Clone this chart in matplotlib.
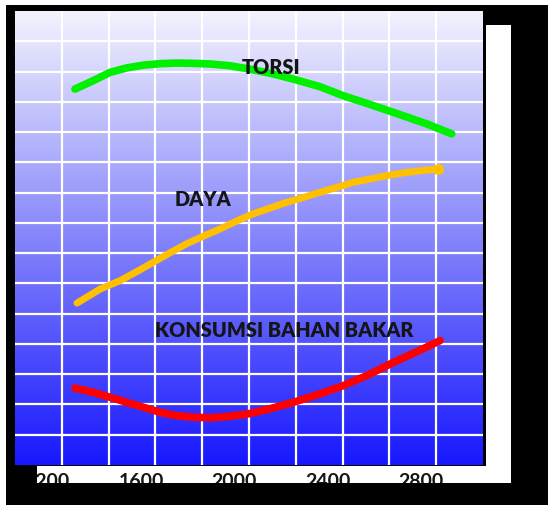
import numpy as np
import matplotlib.pyplot as plt
from matplotlib.patches import Rectangle
from matplotlib.colors import LinearSegmentedColormap

# curve data (rpm vs. relative value)
torsi_rpm = [1317, 1396, 1467, 1539, 1610, 1682, 1753, 1824, 1896, 1982,
             2067, 2167, 2253, 2367, 2467, 2567, 2682, 2825, 2932]
torsi = [124.2, 127.0, 129.7, 131.2, 132.1, 132.6, 132.8, 132.7, 132.5, 131.9,
         130.8, 129.2, 127.5, 125.0, 122.0, 119.5, 116.5, 112.7, 109.4]

daya_rpm = [1326, 1424, 1510, 1582, 1653, 1724, 1796, 1867, 1939, 2010, 2081,
            2153, 2225, 2296, 2367, 2439, 2510, 2582, 2653, 2724, 2796, 2873]
daya = [53.5, 58.1, 60.9, 63.9, 67.0, 70.1, 73.1, 75.6, 78.0, 80.6, 83.0,
        84.9, 86.8, 88.4, 90.1, 91.7, 93.4, 94.5, 95.6, 96.5, 97.2, 97.8]

bbm_rpm = [1317, 1396, 1467, 1539, 1610, 1682, 1753, 1824, 1896, 1967,
           2053, 2139, 2253, 2367, 2467, 2567, 2682, 2782, 2882]
bbm = [25.4, 24.0, 22.4, 20.7, 19.1, 17.4, 16.3, 15.8, 15.6, 16.0,
       16.8, 18.3, 20.7, 23.5, 26.2, 29.5, 33.9, 37.4, 41.1]

tick_rpm = [1200, 1600, 2000, 2400, 2800]
tick_labels = ["1200", "1600", "2000", "2400", "2800"]
unit_label = "RPM"

W, H = 548, 506
XMIN, XMAX = 1060, 3066
YMIN, YMAX = 0, 150
FONT = ["Lato", "DejaVu Sans"]


def box(x0, y0, x1, y1):
    # pixel box (top-left origin) -> figure fraction rect
    return [x0 / W, (H - y1) / H, (x1 - x0) / W, (y1 - y0) / H]


fig = plt.figure(figsize=(W / 100, H / 100), dpi=100)
fig.patch.set_facecolor("black")
fig.add_artist(Rectangle((0, 1 - 6 / H), 1, 6 / H, transform=fig.transFigure,
                         facecolor="white", edgecolor="none"))
fig.add_artist(Rectangle((0, 0), 6 / W, 1, transform=fig.transFigure,
                         facecolor="white", edgecolor="none"))
# white panel on the right
fig.add_artist(Rectangle((486 / W, (H - 484) / H), 25 / W, (484 - 26) / H,
                         transform=fig.transFigure, facecolor="white", edgecolor="none"))

ax = fig.add_axes(box(15, 12, 483, 466))
grad = LinearSegmentedColormap.from_list(
    "bg", [(0.0, "#1818ff"), (0.5, "#8585fb"), (1.0, "#f3f3fe")])
ax.imshow(np.linspace(0, 1, 256).reshape(-1, 1), cmap=grad, origin="lower",
          aspect="auto", extent=[XMIN, XMAX, YMIN, YMAX], zorder=0)

# white grid, 10 columns x 15 rows
for i in range(1, 10):
    ax.axvline(XMIN + (XMAX - XMIN) * i / 10, color="white", lw=1.6, zorder=1)
for j in range(1, 15):
    ax.axhline(YMIN + (YMAX - YMIN) * j / 15, color="white", lw=1.6, zorder=1)

style = dict(solid_capstyle="round", solid_joinstyle="round", zorder=3)
ax.plot(torsi_rpm, torsi, color="#00f000", lw=5.5, **style)
ax.plot(daya_rpm, daya, color="#ffc000", lw=5, **style)
ax.plot(daya_rpm[-1:], daya[-1:], "o", color="#ffc000", ms=7, zorder=3)
ax.plot(bbm_rpm, bbm, color="#ff0000", lw=5.5, **style)

font = dict(family=FONT, weight="heavy", color="#151515",
            fontsize=14.3, ha="center", va="center", zorder=4)
ax.text(2157, 131.8, "TORSI", **font)
ax.text(1866, 88.2, "DAYA", **font)
ax.text(2215, 44.9, "KONSUMSI BAHAN BAKAR", **font)

ax.set_xlim(XMIN, XMAX)
ax.set_ylim(YMIN, YMAX)
ax.set_xticks([])
ax.set_yticks([])
for s in ax.spines.values():
    s.set_visible(False)

# tick label strip (labels cut off at its bottom edge)
sx0, sx1 = 37, 511
strip = fig.add_axes(box(sx0, 467, sx1, 484))
strip.set_facecolor("white")
strip.set_xlim(XMIN + (sx0 - 15) * (XMAX - XMIN) / 468,
               XMIN + (sx1 - 15) * (XMAX - XMIN) / 468)
strip.set_ylim(0, 1)
strip.set_xticks([])
strip.set_yticks([])
for s in strip.spines.values():
    s.set_visible(False)
for r, lab in zip(tick_rpm, tick_labels):
    strip.text(r, -0.2, lab, ha="center", va="baseline", fontsize=14,
               family=FONT, weight="bold", color="#151515", clip_on=True)
strip.text(3147, -0.2, unit_label, ha="left", va="baseline", fontsize=14,
           family=FONT, weight="bold", color="#151515", clip_on=True)

fig.savefig("out.png", dpi=100, facecolor=fig.get_facecolor())
